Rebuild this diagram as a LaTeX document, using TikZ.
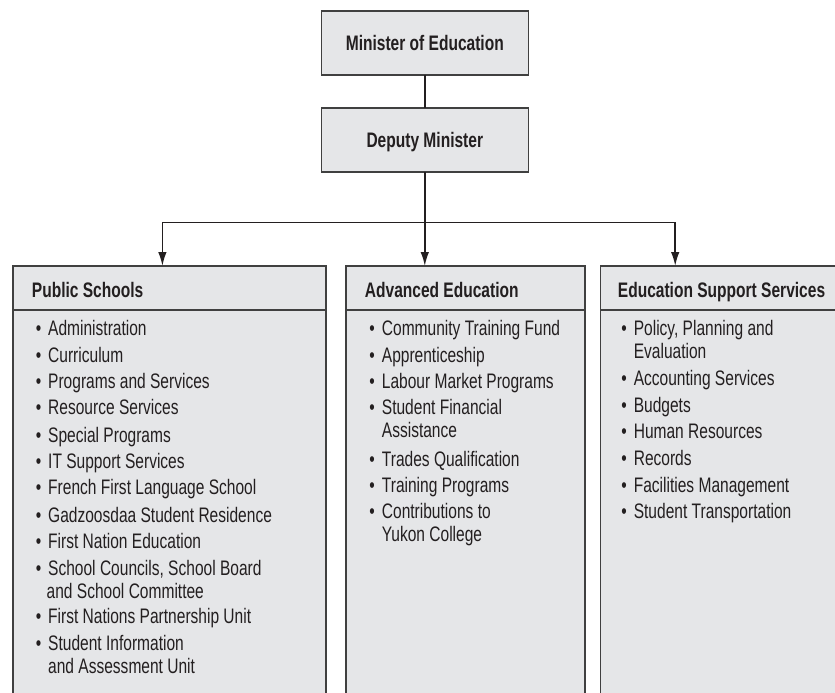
\documentclass[tikz,border=0pt]{standalone}
\usepackage{fontspec}
\setmainfont{Liberation Sans}[FakeStretch=0.74]
\usetikzlibrary{arrows.meta}
\definecolor{boxfill}{HTML}{E5E6E8}
\definecolor{boxline}{HTML}{404040}
\definecolor{ink}{HTML}{231F20}
\newcommand\TwoLn[2]{\vtop{\hbox{#1}\hbox{#2}}}
\newcommand\Bul{\llap{\textbullet\hspace{7pt}}}
\begin{document}
\begin{tikzpicture}[x=1pt,y=-1pt,
  box/.style={draw=boxline,fill=boxfill,line width=1.6pt,inner sep=0pt,outer sep=0pt},
  topbox/.style={box,minimum width=207pt,minimum height=64pt,text height=15pt,text depth=0pt,
    font=\fontsize{21}{24}\selectfont\bfseries,text=ink},
  colbox/.style={box,anchor=north west,minimum height=460pt},
  head/.style={anchor=base west,inner sep=0pt,font=\fontsize{21}{24}\selectfont\bfseries,text=ink},
  itm/.style={anchor=base west,inner sep=0pt,font=\fontsize{21}{23}\selectfont,text=ink},
  conn/.style={draw=ink,line width=1.6pt},
  arr/.style={conn,-{Latex[length=14pt,width=8.5pt]}}
]
\useasboundingbox (0,0) rectangle (835,693);
\clip (0,0) rectangle (835,693);

% top boxes
\node[topbox] (min) at (424.8,43) {Minister of Education};
\node[topbox] (dep) at (424.8,140) {Deputy Minister};

% column boxes
\node[colbox,minimum width=313.3pt] (ps) at (12.7,266) {};
\node[colbox,minimum width=238.7pt] (ms) at (346,266) {};
\node[colbox,minimum width=260pt] (es) at (600.6,266) {};
\draw[draw=boxline,line width=1.6pt] ([yshift=-44pt]ps.north west) -- ([yshift=-44pt]ps.north east);
\draw[draw=boxline,line width=1.6pt] ([yshift=-44pt]ms.north west) -- ([yshift=-44pt]ms.north east);
\draw[draw=boxline,line width=1.6pt] ([yshift=-44pt]es.north west) -- ([yshift=-44pt]es.north east);

% connectors
\coordinate (j) at (424.8,222.3);
\draw[conn] (min.south) -- (dep.north);
\draw[conn] (dep.south) -- (j);
\draw[arr] (j) -| ([xshift=149.7pt]ps.north west);
\draw[arr] (j) -- ([xshift=78.8pt]ms.north west);
\draw[arr] (j) -| ([xshift=74.6pt]es.north west);

% headers
\node[head] (psh) at (31.7,297.3) {Public Schools};
\node[head] (msh) at (364.7,297.3) {Advanced Education};
\node[head] (esh) at (617.7,297.3) {Education Support Services};

% public schools items
\node[itm] (p1) at (48,335) {\Bul Administration};
\node[itm] (p2) at (48,362) {\Bul Curriculum};
\node[itm] (p3) at (48,388.7) {\Bul Programs and Services};
\node[itm] (p4) at (48,414.7) {\Bul Resource Services};
\node[itm] (p5) at (48,442) {\Bul Special Programs};
\node[itm] (p6) at (48,468.7) {\Bul IT Support Services};
\node[itm] (p7) at (48,494.7) {\Bul French First Language School};
\node[itm] (p8) at (48,522) {\Bul Gadzoosdaa Student Residence};
\node[itm] (p9) at (48,548) {\Bul First Nation Education};
\node[itm] (p10) at (48,575.3) {\TwoLn{\Bul School Councils, School Board}{\hspace*{-1.5pt}and School Committee}};
\node[itm] (p11) at (48,623.7) {\Bul First Nations Partnership Unit};
\node[itm] (p12) at (48,650.3) {\TwoLn{\Bul Student Information}{and Assessment Unit}};

% advanced education items
\node[itm] (m1) at (381.7,335) {\Bul Community Training Fund};
\node[itm] (m2) at (381.7,362) {\Bul Apprenticeship};
\node[itm] (m3) at (381.7,388.7) {\Bul Labour Market Programs};
\node[itm] (m4) at (381.7,414.7) {\TwoLn{\Bul Student Financial}{Assistance}};
\node[itm] (m5) at (381.7,466) {\Bul Trades Qualification};
\node[itm] (m6) at (381.7,492.7) {\Bul Training Programs};
\node[itm] (m7) at (381.7,518.7) {\TwoLn{\Bul Contributions to}{Yukon College}};

% support services items
\node[itm] (e1) at (633.6,335) {\TwoLn{\Bul Policy, Planning and}{Evaluation}};
\node[itm] (e2) at (633.6,385.3) {\Bul Accounting Services};
\node[itm] (e3) at (633.6,412) {\Bul Budgets};
\node[itm] (e4) at (633.6,438.7) {\Bul Human Resources};
\node[itm] (e5) at (633.6,465.3) {\Bul Records};
\node[itm] (e6) at (633.6,492) {\Bul Facilities Management};
\node[itm] (e7) at (633.6,518.7) {\Bul Student Transportation};
\end{tikzpicture}
\end{document}
